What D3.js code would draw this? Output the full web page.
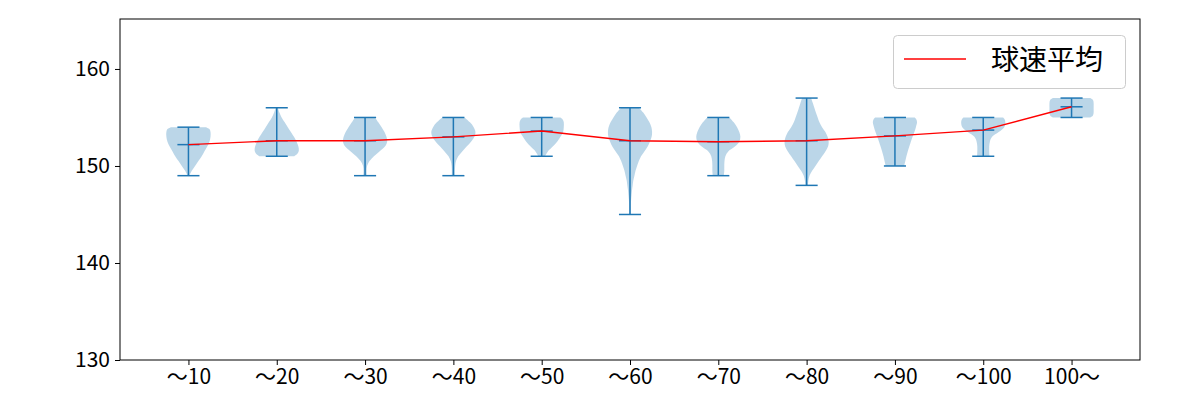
<!DOCTYPE html>
<html><head><meta charset="utf-8">
<script src="https://cdn.jsdelivr.net/npm/d3@7"></script>
<style>body{margin:0;background:#fff}</style>
</head><body>
<svg id="chart" width="1200" height="400"></svg>
<script>
const categories = ["～10","～20","～30","～40","～50","～60","～70","～80","～90","～100","100～"];
const mins  = [149,151,149,149,151,145,149,148,150,151,155];
const maxs  = [154,156,155,155,155,156,155,157,155,155,157];
const means = [152.2,152.6,152.6,153.0,153.6,152.6,152.5,152.6,153.1,153.7,156.1];
const yTicks = [130,140,150,160];
const legendLabel = "球速平均";
// relative density profiles: [value, relative half-width]
const profiles = [
  [[149,0.04],[149.5,0.15],[150,0.3],[150.5,0.45],[151,0.6],[151.5,0.72],[152,0.85],[152.5,0.95],[153,1.0],[153.5,1.0],[153.8,0.95],[154,0.8]],
  [[151,0.8],[151.3,0.95],[151.6,1.0],[152,0.98],[152.5,0.9],[153,0.78],[153.5,0.64],[154,0.5],[154.5,0.36],[155,0.22],[155.5,0.12],[156,0.05]],
  [[149,0.08],[149.5,0.07],[150,0.09],[150.5,0.2],[151,0.4],[151.5,0.65],[152,0.9],[152.5,1.0],[153,0.97],[153.5,0.88],[154,0.75],[154.5,0.6],[155,0.45]],
  [[149,0.07],[149.5,0.07],[150,0.08],[150.5,0.12],[151,0.22],[151.5,0.4],[152,0.6],[152.5,0.8],[153,0.95],[153.5,1.0],[154,0.92],[154.5,0.75],[155,0.5]],
  [[151,0.15],[151.5,0.28],[152,0.5],[152.5,0.7],[153,0.85],[153.5,0.97],[154,1.0],[154.5,1.0],[154.8,0.95],[155,0.85]],
  [[145,0.04],[145.5,0.04],[146,0.04],[146.5,0.05],[147,0.07],[147.5,0.09],[148,0.12],[148.5,0.15],[149,0.2],[149.5,0.25],[150,0.32],[150.5,0.4],[151,0.5],[151.5,0.65],[152,0.8],[152.5,0.9],[153,0.98],[153.5,1.0],[154,0.97],[154.5,0.88],[155,0.75],[155.5,0.6],[156,0.4]],
  [[149,0.25],[149.5,0.27],[150,0.27],[150.5,0.28],[151,0.32],[151.5,0.45],[152,0.75],[152.5,0.95],[153,1.0],[153.5,0.95],[154,0.85],[154.5,0.7],[155,0.5]],
  [[148,0.06],[148.5,0.08],[149,0.13],[149.5,0.25],[150,0.4],[150.5,0.55],[151,0.7],[151.5,0.85],[152,0.97],[152.5,1.0],[153,0.95],[153.5,0.85],[154,0.7],[154.5,0.58],[155,0.5],[155.5,0.42],[156,0.35],[156.5,0.28],[157,0.2]],
  [[150,0.42],[150.5,0.47],[151,0.52],[151.5,0.58],[152,0.65],[152.5,0.72],[153,0.8],[153.5,0.88],[154,0.95],[154.5,1.0],[154.8,0.97],[155,0.9]],
  [[151,0.28],[151.5,0.27],[152,0.27],[152.5,0.3],[153,0.4],[153.5,0.7],[154,0.95],[154.5,1.0],[154.8,0.97],[155,0.9]],
  [[155,0.85],[155.2,0.97],[155.5,1.0],[156,1.0],[156.5,1.0],[156.8,0.97],[157,0.85]]
];

const W = 1200, H = 400;
const m = {left:120, right:1140, top:19, bottom:360};
const svg = d3.select("#chart");
const font = "'Noto Sans CJK JP','Noto Sans',sans-serif";
const blue = "#1f77b4";

const x = d3.scaleLinear().domain([0.225, 11.775]).range([m.left, m.right]);
const y = d3.scaleLinear().domain([130, 165.15]).range([m.bottom, m.top]);
const unit = x(1) - x(0);
const halfW = 0.25 * unit;
const capW = 0.125 * unit;

const g = svg.append("g");

profiles.forEach((prof, i) => {
  const cx = x(i + 1);
  const area = d3.area()
    .y(d => y(d[0]))
    .x0(d => cx - d[1] * halfW)
    .x1(d => cx + d[1] * halfW)
    .curve(d3.curveCatmullRom);
  g.append("path").datum(prof).attr("d", area)
    .attr("fill", blue).attr("fill-opacity", 0.3).attr("stroke", "none");
});

categories.forEach((c, i) => {
  const cx = x(i + 1);
  const lines = [
    [cx, y(mins[i]), cx, y(maxs[i])],
    [cx - capW, y(mins[i]), cx + capW, y(mins[i])],
    [cx - capW, y(maxs[i]), cx + capW, y(maxs[i])],
    [cx - capW, y(means[i]), cx + capW, y(means[i])]
  ];
  lines.forEach(l => g.append("line")
    .attr("x1", l[0]).attr("y1", l[1]).attr("x2", l[2]).attr("y2", l[3])
    .attr("stroke", blue).attr("stroke-width", 1.5));
});

const line = d3.line().x((d, i) => x(i + 1)).y(d => y(d));
g.append("path").datum(means).attr("d", line)
  .attr("fill", "none").attr("stroke", "red").attr("stroke-width", 1.4);

// axes
const xAxis = d3.axisBottom(x).tickValues(d3.range(1, 12)).tickFormat(d => categories[d - 1]).tickSizeOuter(0).tickSize(5).tickPadding(4);
const yAxis = d3.axisLeft(y).tickValues(yTicks).tickSizeOuter(0).tickSize(5).tickPadding(5);
const gx = svg.append("g").attr("transform", `translate(0,${m.bottom})`).call(xAxis);
const gy = svg.append("g").attr("transform", `translate(${m.left},0)`).call(yAxis);
[gx, gy].forEach(a => {
  a.select(".domain").remove();
  a.selectAll("line").attr("stroke", "#000").attr("stroke-width", 1);
  a.selectAll("text").attr("fill", "#000").style("font-family", font).style("font-size", "21px");
});

svg.append("rect").attr("x", m.left).attr("y", m.top)
  .attr("width", m.right - m.left).attr("height", m.bottom - m.top)
  .attr("fill", "none").attr("stroke", "#000").attr("stroke-width", 1);

// legend
const lg = svg.append("g");
lg.append("rect").attr("x", 893.5).attr("y", 35.5).attr("width", 232).attr("height", 53).attr("rx", 4)
  .attr("fill", "#fff").attr("fill-opacity", 0.8).attr("stroke", "#ccc").attr("stroke-width", 1);
lg.append("line").attr("x1", 904).attr("x2", 966).attr("y1", 59).attr("y2", 59)
  .attr("stroke", "red").attr("stroke-width", 1.4);
lg.append("text").attr("x", 991).attr("y", 70).text(legendLabel)
  .style("font-family", font).style("font-size", "28px").attr("fill", "#000");
</script>
</body></html>
